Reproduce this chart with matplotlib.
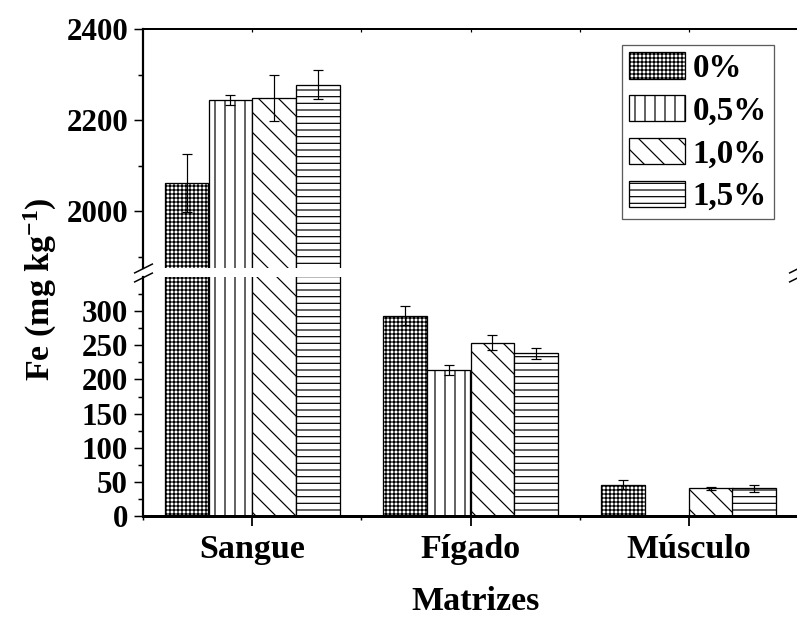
import numpy as np
import matplotlib
matplotlib.use('Agg')
import matplotlib.pyplot as plt
from matplotlib.ticker import FixedLocator

DPI = 120
PX = 72.0 / DPI  # points per pixel

plt.rcParams['font.family'] = ['Liberation Serif', 'DejaVu Serif']
plt.rcParams['font.weight'] = 'bold'
plt.rcParams['mathtext.fontset'] = 'custom'
plt.rcParams['mathtext.rm'] = 'Liberation Serif:bold'
plt.rcParams['mathtext.bf'] = 'Liberation Serif:bold'
plt.rcParams['mathtext.default'] = 'bf'
plt.rcParams['hatch.linewidth'] = 1.0 * PX * 1.2
plt.rcParams['hatch.color'] = 'black'

# ---- data ----
categories = ['Sangue', 'Fígado', 'Músculo']
series_labels = ['0%', '0,5%', '1,0%', '1,5%']
vals_0 = [2062, 293, 46]
err_0 = [64, 14, 7]
vals_05 = [2245, 214, np.nan]
err_05 = [11, 7, np.nan]
vals_10 = [2249, 254, 40.5]
err_10 = [50, 11, 2]
vals_15 = [2278, 238, 40.5]
err_15 = [31, 8, 5]
low_ticks = [0, 50, 100, 150, 200, 250, 300]
low_minor = [25, 75, 125, 175, 225, 275, 325]
up_ticks = [2000, 2200, 2400]
up_minor = [1900, 2100, 2300]

series_vals = [vals_0, vals_05, vals_10, vals_15]
series_errs = [err_0, err_05, err_10, err_15]
hatches = ['+++++', '||', '\\\\', '---']

W, H = 797, 618
fig = plt.figure(figsize=(W / DPI, H / DPI), dpi=DPI)

left = 143 / W
width = 655 / W
ax_low = fig.add_axes([left, (H - 516) / H, width, (516 - 277) / H])
ax_up = fig.add_axes([left, (H - 268) / H, width, (268 - 29) / H])

x = np.arange(len(categories))
bw = 0.2
offsets = [-0.3, -0.1, 0.1, 0.3]

for ax in (ax_low, ax_up):
    for vals, errs, hatch, lab, off in zip(series_vals, series_errs, hatches, series_labels, offsets):
        ax.bar(x + off, vals, bw, facecolor='white', edgecolor='black',
               linewidth=1.3 * PX, hatch=hatch, label=lab, zorder=2)
        ax.errorbar(x + off, vals, yerr=errs, fmt='none', ecolor='black',
                    elinewidth=1.2 * PX, capsize=5 * PX, capthick=1.2 * PX, zorder=3)
    ax.set_xlim(-0.5, 2.5)

ax_low.set_ylim(0, 350)
ax_up.set_ylim(1875, 2400)

# spines
ax_low.spines['top'].set_visible(False)
ax_up.spines['bottom'].set_visible(False)
ax_low.spines['left'].set_linewidth(2.2 * PX)
ax_low.spines['bottom'].set_linewidth(3 * PX)
ax_low.spines['right'].set_linewidth(2 * PX)
ax_up.spines['left'].set_linewidth(2.2 * PX)
ax_up.spines['top'].set_linewidth(2 * PX)
ax_up.spines['right'].set_linewidth(2 * PX)

tick_fs = 31 * PX
cat_fs = 34 * PX

# y ticks
ax_low.yaxis.set_major_locator(FixedLocator(low_ticks))
ax_low.yaxis.set_minor_locator(FixedLocator(low_minor))
ax_up.yaxis.set_major_locator(FixedLocator(up_ticks))
ax_up.yaxis.set_minor_locator(FixedLocator(up_minor))
for ax in (ax_low, ax_up):
    ax.tick_params(axis='y', which='major', direction='out', length=9 * PX,
                   width=1.5 * PX, labelsize=tick_fs, pad=6 * PX, right=False)
    ax.tick_params(axis='y', which='minor', direction='out', length=5 * PX,
                   width=1.5 * PX, right=False)

# x ticks
ax_low.set_xticks(x)
ax_low.set_xticklabels(categories)
ax_low.xaxis.set_minor_locator(FixedLocator([-0.5, 0.5, 1.5, 2.5]))
ax_low.tick_params(axis='x', which='major', direction='out', length=10 * PX,
                   width=1.8 * PX, labelsize=cat_fs, pad=8 * PX, top=False)
ax_low.tick_params(axis='x', which='minor', direction='out', length=4 * PX,
                   width=1.5 * PX, top=False)

ax_up.set_xticks(x)
ax_up.xaxis.set_minor_locator(FixedLocator([0.5, 1.5]))
ax_up.tick_params(axis='x', which='both', direction='in', length=3 * PX,
                  width=1.2 * PX, top=True, bottom=False, labelbottom=False, labeltop=False)

# axis labels
ax_low.set_xlabel('Matrizes', fontsize=cat_fs, fontweight='bold')
ax_low.xaxis.set_label_coords((476 - 143) / 655, (516 - 586) / 239)
fig.text(40 / W, 1 - 289 / H, r'Fe (mg kg$^{-1}$)', rotation=90, ha='center', va='center',
         fontsize=34 * PX, fontweight='bold')

# break marks
mk = dict(marker=[(-1, -0.5), (1, 0.5)], markersize=19 * PX, linestyle='none',
          color='black', mec='black', mew=1.5 * PX, clip_on=False)
ax_up.plot([0, 1], [0, 0], transform=ax_up.transAxes, **mk)
ax_low.plot([0, 1], [1, 1], transform=ax_low.transAxes, **mk)

# legend
leg = ax_up.legend(loc='upper right', bbox_to_anchor=(774 / W, 1 - 45 / H),
                   bbox_transform=fig.transFigure, borderaxespad=0,
                   frameon=True, fancybox=False,
                   handlelength=56 / 33, handleheight=28 / 33, handletextpad=7 / 33,
                   labelspacing=0.34, borderpad=0.22, prop={'weight': 'bold', 'size': 33 * PX})
leg.get_frame().set_edgecolor('#333333')
leg.get_frame().set_linewidth(1.3 * PX)

fig.savefig('out.png', dpi=DPI)
